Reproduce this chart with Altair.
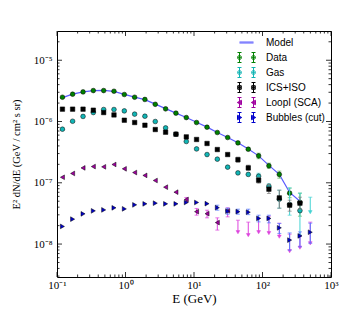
import altair as alt
import pandas as pd

# ---------------- data ----------------
energy = [0.120, 0.169, 0.240, 0.339, 0.480, 0.679, 0.961, 1.36, 1.92, 2.72,
          3.85, 5.45, 7.72, 10.9, 15.5, 21.9, 31.0, 43.8, 62.0, 87.8,
          124, 176, 249, 352, 498]

model_val = [2.45e-6, 2.80e-6, 3.05e-6, 3.20e-6, 3.21e-6, 3.10e-6, 2.78e-6, 2.50e-6,
             2.27e-6, 1.92e-6, 1.62e-6, 1.37e-6, 1.16e-6, 9.7e-7, 8.1e-7, 6.6e-7,
             5.5e-7, 4.5e-7, 3.55e-7, 2.75e-7, 1.92e-7, 1.37e-7, 6.95e-8, 5.0e-8]

data_val = [2.49e-6, 2.79e-6, 3.04e-6, 3.20e-6, 3.20e-6, 3.12e-6, 2.76e-6, 2.49e-6,
            2.29e-6, 1.91e-6, 1.61e-6, 1.37e-6, 1.16e-6, 9.63e-7, 8.07e-7, 6.62e-7,
            5.48e-7, 4.48e-7, 3.53e-7, 2.75e-7, 1.89e-7, 1.37e-7, 6.77e-8, 4.77e-8]
data_err_idx = [17, 18, 19, 20, 21, 22, 23]
data_err_lo = [4.3e-7, 3.35e-7, 2.47e-7, 1.73e-7, 1.19e-7, 5.71e-8, 2.85e-8]
data_err_hi = [4.65e-7, 3.7e-7, 3.04e-7, 2.09e-7, 1.55e-7, 8.17e-8, 6.77e-8]

gas_val = [7.49e-7, 1.01e-6, 1.21e-6, 1.40e-6, 1.57e-6, 1.57e-6, 1.49e-6, 1.32e-6,
           1.22e-6, 1.00e-6, 7.86e-7, 6.21e-7, 4.72e-7, 3.57e-7, 2.89e-7, 2.43e-7,
           1.80e-7, 1.45e-7, 1.37e-7, 1.28e-7, 8.80e-8, 5.40e-8, 4.39e-8, 3.51e-8]
gas_err_idx = [19, 20, 21, 22, 23]
gas_err_lo = [1.14e-7, 8.0e-8, 3.85e-8, 2.96e-8, 1.40e-8]
gas_err_hi = [1.43e-7, 9.6e-8, 7.57e-8, 8.26e-8, 6.77e-8]
gas_ul_idx = [24]
gas_ul_top = [5.82e-8]
gas_ul_bot = [3.31e-8]

ics_val = [1.59e-6, 1.59e-6, 1.59e-6, 1.53e-6, 1.40e-6, 1.28e-6, 1.05e-6, 9.63e-7,
           8.70e-7, 7.40e-7, 6.69e-7, 6.21e-7, 5.61e-7, 5.09e-7, 4.38e-7, 3.49e-7,
           2.89e-7, 2.38e-7, 1.75e-7, 1.10e-7, 7.86e-8, 5.67e-8, 4.31e-8, 4.65e-8]
ics_err_idx = [17, 18, 19, 20, 21, 22, 23]
ics_err_lo = [2.17e-7, 1.60e-7, 9.85e-8, 6.69e-8, 3.85e-8, 3.44e-8, 3.71e-8]
ics_err_hi = [2.62e-7, 1.94e-7, 1.23e-7, 9.38e-8, 7.57e-8, 5.20e-8, 5.82e-8]

loop_val = [1.23e-7, 1.42e-7, 1.75e-7, 1.84e-7, 1.82e-7, 1.99e-7, 1.69e-7, 1.47e-7,
            1.32e-7, 1.09e-7, 8.48e-8, 7.03e-8, 5.34e-8, 3.38e-8, 3.13e-8, 2.24e-8,
            3.48e-8]
loop_err_idx = [12, 13, 14, 15, 16]
loop_err_lo = [4.88e-8, 2.96e-8, 2.68e-8, 1.69e-8, 2.78e-8]
loop_err_hi = [5.76e-8, 3.81e-8, 3.57e-8, 2.68e-8, 3.90e-8]
loop_ul_idx = [17, 18, 19, 20, 21, 22, 23, 24]
loop_ul_top = [2.45e-8, 2.28e-8, 2.65e-8, 2.85e-8, 2.19e-8, 1.45e-8, 1.35e-8, 2.28e-8]
loop_ul_bot = [1.56e-8, 1.40e-8, 1.56e-8, 1.51e-8, 1.32e-8, 7.66e-9, 8.74e-9, 1.03e-8]

bub_val = [1.94e-8, 2.55e-8, 3.11e-8, 3.48e-8, 3.61e-8, 3.90e-8, 3.75e-8, 4.36e-8,
           4.53e-8, 4.65e-8, 4.53e-8, 4.53e-8, 4.77e-8, 4.77e-8, 4.56e-8, 3.93e-8,
           3.44e-8, 3.38e-8, 3.31e-8, 2.62e-8, 2.62e-8, 1.84e-8, 1.16e-8, 1.36e-8,
           1.56e-8]
bub_err_idx = [15, 16, 17, 18, 19, 20, 21, 22, 23, 24]
bub_err_lo = [3.57e-8, 3.07e-8, 3.07e-8, 3.02e-8, 2.30e-8, 2.22e-8, 1.49e-8, 7.95e-9, 9.00e-9, 1.03e-8]
bub_err_hi = [4.31e-8, 3.85e-8, 3.71e-8, 3.71e-8, 2.96e-8, 2.96e-8, 2.17e-8, 1.52e-8, 1.58e-8, 2.19e-8]

series_names = ["Model", "Data", "Gas", "ICS+ISO", "LoopI (SCA)", "Bubbles (cut)"]

x_tick_vals = [0.1, 1, 10, 100, 1000]
x_tick_labels = ["10⁻¹", "10⁰", "10¹", "10²", "10³"]
y_tick_vals = [1e-8, 1e-7, 1e-6, 1e-5]
y_tick_labels = ["10⁻⁸", "10⁻⁷", "10⁻⁶", "10⁻⁵"]
x_minor = [k * 10.0 ** n for n in range(-1, 3) for k in range(2, 10)]
y_minor = [k * 10.0 ** n for n in range(-9, -4) for k in range(2, 10)
           if 2.9e-9 <= k * 10.0 ** n <= 3e-5]

# ---------------- styles ----------------
W, H = 274, 246
SERIF = "Liberation Serif"
SANS = "Liberation Sans"
model_color = "#5a5aff"
marker_fill = {"Data": "#008000", "Gas": "#12b5b5", "ICS+ISO": "#000000",
               "LoopI (SCA)": "#a000a0", "Bubbles (cut)": "#0000cc"}
err_color = {"Data": "#5cb85c", "Gas": "#45d3d3", "ICS+ISO": "#7f7f7f",
             "LoopI (SCA)": "#dd44dd", "Bubbles (cut)": "#5577ff"}
marker_shape = {"Data": "circle", "Gas": "circle", "ICS+ISO": "square",
                "LoopI (SCA)": "triangle-left", "Bubbles (cut)": "triangle-right"}
marker_size = {"Data": 22, "Gas": 22, "ICS+ISO": 20, "LoopI (SCA)": 22, "Bubbles (cut)": 22}


def label_expr(vals, labels):
    import math
    expr = "''"
    for v, lab in reversed(list(zip(vals, labels))):
        expr = f"abs(log(datum.value)/LN10 - ({math.log10(v):.0f})) < 0.01 ? '{lab}' : {expr}"
    return expr


x_scale = alt.Scale(type="log", domain=[0.1, 1000], nice=False)
y_scale = alt.Scale(type="log", domain=[2.9e-9, 3e-5], nice=False)
x_axis = alt.Axis(values=x_tick_vals, labelExpr=label_expr(x_tick_vals, x_tick_labels),
                  ticks=False, domain=False, grid=False, labelFont=SERIF, labelFontSize=11,
                  labelColor="black", labelPadding=2, labelFlush=False,
                  title="E (GeV)", titleFont=SERIF, titleFontSize=13, titleFontWeight="normal",
                  titleColor="black", titlePadding=2)
y_axis = alt.Axis(values=y_tick_vals, labelExpr=label_expr(y_tick_vals, y_tick_labels),
                  ticks=False, domain=False, grid=False, labelFont=SERIF, labelFontSize=11,
                  labelColor="black", labelPadding=5, labelFlush=False,
                  title="E² dN/dE  (GeV / cm² s sr)", titleFont=SERIF, titleFontSize=10.5,
                  titleFontWeight="normal", titleColor="black", titlePadding=12)


def X(f):
    return alt.X(f, type="quantitative", scale=x_scale, axis=x_axis)


def Y(f):
    return alt.Y(f, type="quantitative", scale=y_scale, axis=y_axis)


def pts(vals):
    return pd.DataFrame({"E": energy[:len(vals)], "v": vals})


def errs(idx, lo, hi):
    return pd.DataFrame({"E": [energy[i] for i in idx], "lo": lo, "hi": hi})


layers = []

# model line
layers.append(alt.Chart(pts(model_val)).mark_line(color=model_color, strokeWidth=1.2, clip=True)
              .encode(x=X("E"), y=Y("v")))


def add_series(name, vals, eidx, elo, ehi, uidx=None, utop=None, ubot=None):
    ec = err_color[name]
    ed = errs(eidx, elo, ehi)
    layers.append(alt.Chart(ed).mark_rule(color=ec, strokeWidth=1, clip=True)
                  .encode(x=X("E"), y=Y("lo"), y2="hi"))
    for f in ["lo", "hi"]:
        layers.append(alt.Chart(ed).mark_tick(color=ec, orient="horizontal", size=4,
                                              thickness=1, clip=True)
                      .encode(x=X("E"), y=Y(f)))
    if uidx:
        ud = errs(uidx, ubot, utop)
        layers.append(alt.Chart(ud).mark_rule(color=ec, strokeWidth=1, clip=True)
                      .encode(x=X("E"), y=Y("lo"), y2="hi"))
        layers.append(alt.Chart(ud).mark_tick(color=ec, orient="horizontal", size=4,
                                              thickness=1, clip=True)
                      .encode(x=X("E"), y=Y("hi")))
        layers.append(alt.Chart(ud).mark_point(shape="triangle-down", filled=True, size=14,
                                               fill=ec, stroke=ec, strokeWidth=0.5, opacity=1,
                                               clip=True)
                      .encode(x=X("E"), y=Y("lo")))
    layers.append(alt.Chart(pts(vals)).mark_point(shape=marker_shape[name], filled=True,
                                                  size=marker_size[name], fill=marker_fill[name],
                                                  stroke="black", strokeWidth=0.5, opacity=1,
                                                  clip=True)
                  .encode(x=X("E"), y=Y("v")))


add_series("Data", data_val, data_err_idx, data_err_lo, data_err_hi)
add_series("Gas", gas_val, gas_err_idx, gas_err_lo, gas_err_hi, gas_ul_idx, gas_ul_top, gas_ul_bot)
add_series("ICS+ISO", ics_val, ics_err_idx, ics_err_lo, ics_err_hi)
add_series("LoopI (SCA)", loop_val, loop_err_idx, loop_err_lo, loop_err_hi,
           loop_ul_idx, loop_ul_top, loop_ul_bot)
add_series("Bubbles (cut)", bub_val, bub_err_idx, bub_err_lo, bub_err_hi)

# ---------------- inward ticks on all four sides ----------------
xt_major = pd.DataFrame({"t": x_tick_vals})
xt_minor = pd.DataFrame({"t": x_minor})
yt_major = pd.DataFrame({"t": y_tick_vals})
yt_minor = pd.DataFrame({"t": y_minor})
for df, ln in [(xt_major, 5), (xt_minor, 2.5)]:
    for y0, y1 in [(0, ln), (H, H - ln)]:
        layers.append(alt.Chart(df).mark_rule(color="black", strokeWidth=0.8)
                      .encode(x=X("t"), y=alt.value(y0), y2=alt.value(y1)))
for df, ln in [(yt_major, 5), (yt_minor, 2.5)]:
    for x0, x1 in [(0, ln), (W, W - ln)]:
        layers.append(alt.Chart(df).mark_rule(color="black", strokeWidth=0.8)
                      .encode(y=Y("t"), x=alt.value(x0), x2=alt.value(x1)))


# ---------------- legend (symbols: two solid markers with error bars) ----------------
# Symbols are stroke-only (one colour per entry); markers are made solid by nested outlines.
def two(fn):
    return " ".join(fn(c) for c in (-1.4, 1.4))


def circ(c):
    out = []
    for r in (0.4, 0.2, 0.05):
        out.append(f"M{c - r:.2f},0 a{r},{r} 0 1,0 {2 * r:.2f},0 a{r},{r} 0 1,0 {-2 * r:.2f},0 Z")
    return " ".join(out)


def sq(c):
    out = []
    for s in (0.36, 0.18, 0.04):
        out.append(f"M{c - s:.2f},{-s} L{c + s:.2f},{-s} L{c + s:.2f},{s} L{c - s:.2f},{s} Z")
    return " ".join(out)


def tl(c):
    out = []
    for k in (1.0, 0.55, 0.15):
        out.append(f"M{c - 0.45 * k:.2f},0 L{c + 0.4 * k:.2f},{-0.45 * k:.2f} "
                   f"L{c + 0.4 * k:.2f},{0.45 * k:.2f} Z")
    return " ".join(out)


def tr(c):
    out = []
    for k in (1.0, 0.55, 0.15):
        out.append(f"M{c + 0.45 * k:.2f},0 L{c - 0.4 * k:.2f},{-0.45 * k:.2f} "
                   f"L{c - 0.4 * k:.2f},{0.45 * k:.2f} Z")
    return " ".join(out)


def bar(c):
    return (f"M{c:.2f},-1 L{c:.2f},1 "
            f"M{c - 0.4:.2f},-1 L{c + 0.4:.2f},-1 M{c - 0.4:.2f},1 L{c + 0.4:.2f},1")


# Model: a 2px line; the zero-length segments only give it the same height as the others
legend_paths = ["M-1.4,-0.1 L1.4,-0.1 M-1.4,0.1 L1.4,0.1 M0,-1 L0,-1 M0,1 L0,1",
                two(circ) + " " + two(bar),
                two(circ) + " " + two(bar),
                two(sq) + " " + two(bar),
                two(tl) + " " + two(bar),
                two(tr) + " " + two(bar)]
legend_color = [model_color] + [marker_fill[s] for s in series_names[1:]]

leg = alt.Legend(orient="none", legendX=184, legendY=6, title=None, labelFont=SANS,
                 labelFontSize=10, labelColor="black", labelOffset=14, rowPadding=0,
                 symbolSize=100, symbolStrokeWidth=1, padding=0, symbolOpacity=1)
legend_df = pd.DataFrame({"series": series_names, "E": [1e5] * 6, "v": [1e-6] * 6})
layers.append(alt.Chart(legend_df).mark_point(filled=False, clip=True, size=100,
                                              strokeWidth=1, opacity=1).encode(
    x=X("E"), y=Y("v"),
    color=alt.Color("series:N", sort=series_names,
                    scale=alt.Scale(domain=series_names, range=legend_color), legend=leg),
    shape=alt.Shape("series:N", sort=series_names,
                    scale=alt.Scale(domain=series_names, range=legend_paths), legend=leg),
))

chart = alt.layer(*layers).properties(
    width=W, height=H,
    padding={"left": 49, "top": 23, "right": 21, "bottom": 30},
    autosize=alt.AutoSizeParams(type="none"),
    background="white",
).configure_view(stroke="black", strokeWidth=1)

chart.save("out.html", embed_options={"renderer": "svg", "actions": False})
